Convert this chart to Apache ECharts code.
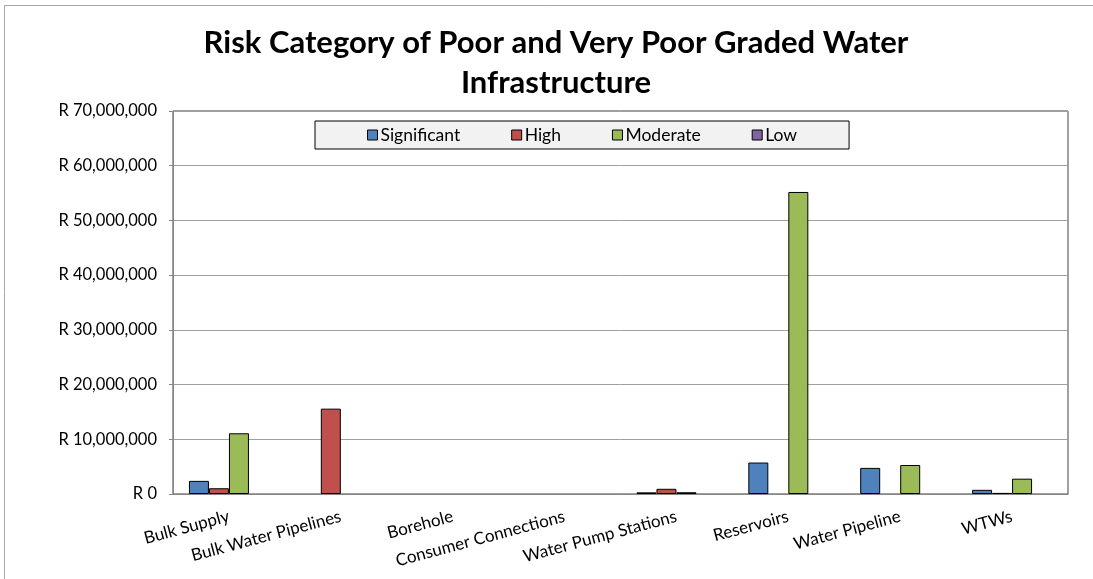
<!DOCTYPE html>
<html>
<head>
<meta charset="utf-8">
<script src="https://cdn.jsdelivr.net/npm/echarts@6/dist/echarts.min.js"></script>
<style>html,body{margin:0;padding:0;background:#fff}#c{width:1093px;height:579px}</style>
</head>
<body>
<div id="c"></div>
<script>
const categories = ['Bulk Supply','Bulk Water Pipelines','Borehole','Consumer Connections','Water Pump Stations','Reservoirs','Water Pipeline','WTWs'];
const significant = [2400000, null, null, null, 300000, 5750000, 4770000, 760000];
const high = [1050000, 15600000, null, null, 950000, null, null, 200000];
const moderate = [11100000, null, null, null, 320000, 55200000, 5300000, 2800000];
const low = [null, null, null, null, null, null, null, null];
const seriesNames = ['Significant','High','Moderate','Low'];
const colors = ['#4f81bd','#c0504d','#9bbb59','#8064a2'];
const titleLines = ['Risk Category of Poor and Very Poor Graded Water','Infrastructure'];

const FONT = 'Lato, "Open Sans", sans-serif';
function fmt(v){ return 'R ' + Math.round(v).toString().replace(/\B(?=(\d{3})+(?!\d))/g, ','); }

const chart = echarts.init(document.getElementById('c'), null, {renderer:'canvas'});
const allData = [significant, high, moderate, low];
chart.setOption({
  animation:false,
  color: colors,
  graphic:[{type:'rect', shape:{x:4.5,y:5.5,width:1120,height:600}, style:{fill:'none', stroke:'#a6a6a6', lineWidth:1}, silent:true}],
  title:{
    text: titleLines.join('\n'),
    left:556, top:23, textAlign:'center',
    textStyle:{fontFamily:FONT, fontWeight:'bold', fontSize:31, color:'#000', lineHeight:40},
    padding:0
  },
  legend:{
    data: seriesNames,
    left:315, top:121,
    padding:[5,52,5,52],
    itemGap:51,
    itemWidth:10, itemHeight:10,
    icon:'rect',
    backgroundColor:'#f2f2f2',
    borderColor:'#000', borderWidth:1,
    textStyle:{fontFamily:FONT, fontSize:17.5, color:'#000', padding:[0,0,0,-2]},
    itemStyle:{borderColor:'#000', borderWidth:1}
  },
  grid:{left:173, right:25, top:111, bottom:85, show:true, borderColor:'#404040', borderWidth:1, containLabel:false, outerBoundsMode:'none'},
  xAxis:{
    type:'category', data:categories,
    axisLine:{lineStyle:{color:'#868686', width:1}},
    axisTick:{show:false},
    axisLabel:{rotate:15, interval:0, fontFamily:FONT, fontSize:17, color:'#000', margin:22}
  },
  yAxis:{
    type:'value', min:0, max:70000000, interval:10000000,
    axisLine:{show:true, lineStyle:{color:'#868686'}},
    axisTick:{show:true, length:4, lineStyle:{color:'#868686'}},
    splitLine:{lineStyle:{color:'#a0a0a0'}},
    axisLabel:{fontFamily:FONT, fontSize:16.5, color:'#000', margin:16, formatter:fmt}
  },
  series: seriesNames.map((n,i)=>({
    name:n, type:'bar', data:allData[i], barWidth:20, barGap:'0%',
    itemStyle:{borderColor:'#000', borderWidth:1}
  }))
});
</script>
</body>
</html>
